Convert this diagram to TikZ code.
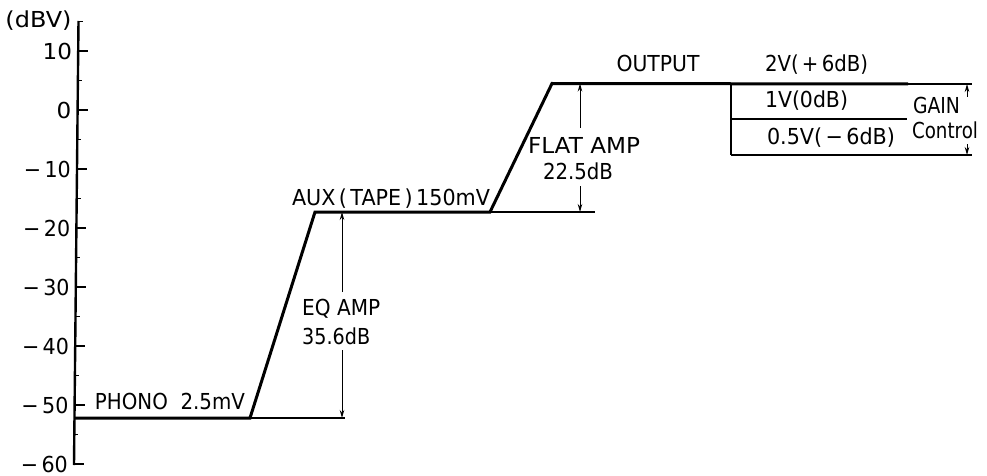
\documentclass[tikz,border=0pt]{standalone}
\usepackage{fontspec}
\setmainfont{DejaVu Sans}
\usepackage{graphicx}
\usetikzlibrary{arrows.meta}
\newcommand{\wt}[2]{\resizebox{#1}{\height}{#2}}
\begin{document}
\begin{tikzpicture}[x=1pt,y=-1pt,
  lbl/.style={inner sep=0pt, font=\fontsize{22}{26}\selectfont},
  lvl/.style={line width=3pt, line join=miter},
  boxl/.style={line width=2.6pt},
  thinl/.style={line width=1.2pt},
  dim/.style={line width=1pt, -{Stealth[length=8pt,width=4.5pt]}},
  axisl/.style={line width=2.4pt},
  tickl/.style={line width=1.4pt}]
\useasboundingbox (0,0) rectangle (987,476);

% axis
\coordinate (atop) at (78.5,21);
\coordinate (abot) at (74,465);
\draw[axisl] (atop) -- (abot);
\foreach \d in {-60,-50,...,10}{
  \pgfmathsetmacro\yy{110-5.9*\d}
  \pgfmathsetmacro\xx{78.5-4.5*(\yy-22)/442}
  \pgfmathtruncatemacro\ab{abs(\d)}
  \draw[tickl] (\xx,\yy) -- ++(10,0);
  \node[lbl, anchor=east] (tick\d) at (\xx-6,\yy)
    {\ifnum\d<0 \wt{47pt}{−\,\ab}\else\scalebox{1.05}[1]{\ab}\fi};
}
\foreach \d in {-55,-45,...,15}{
  \pgfmathsetmacro\yy{110-5.9*\d}
  \pgfmathsetmacro\xx{78.5-4.5*(\yy-22)/442}
  \draw[tickl] (\xx,\yy) -- ++(4,0);
}
\node[lbl] (dbv) at (38.5,21) {\wt{66pt}{(dBV)}};

% levels
\coordinate (ph0) at (74.5,418);
\coordinate (ph1) at (250,418);
\coordinate (ph2) at (345,418);
\coordinate (ax1) at (315,212);
\coordinate (ax2) at (490,212);
\coordinate (ax3) at (595,212);
\coordinate (out1) at (552,83.5);
\coordinate (out2) at (908,84);
\coordinate (out3) at (972,84);
\coordinate (bxt) at (731,84);
\coordinate (bxb) at (731,155);
\coordinate (mid1) at (731,119);
\coordinate (mid2) at (907,119);
\coordinate (bot2) at (907,155);
\coordinate (bot3) at (972,155);

\draw[lvl] (ph0) -- (ph1) -- (ax1) -- (ax2) -- (out1) -- (out2);
\draw[thinl] (ph1) -- (ph2);
\draw[thinl] (ax2) -- (ax3);
\draw[thinl] (out2) -- (out3);
\draw[boxl] (bxt) -- (bxb);
\draw[boxl] (mid1) -- (mid2);
\draw[boxl] (bxb) -- (bot2);
\draw[thinl] (bot2) -- (bot3);

% labels
\node[lbl] (phono) at (170,401) {\wt{150pt}{PHONO\hspace{14pt}2.5mV}};
\node[lbl] (aux) at (391,199) {\wt{198pt}{AUX\,(\,TAPE\,)\,150mV}};
\node[lbl, anchor=west] (eq1) at (302,309) {\wt{78pt}{EQ AMP}};
\node[lbl, anchor=west] (eq2) at (302,336) {\wt{68pt}{35.6dB}};
\node[lbl] (fl1) at (584,145) {\wt{112pt}{FLAT AMP}};
\node[lbl] (fl2) at (578,171) {\wt{70pt}{22.5dB}};
\node[lbl] (outp) at (658,63) {\wt{83pt}{OUTPUT}};
\node[lbl] (v2) at (816.5,65) {\wt{103pt}{2V(\,+\,6dB)}};
\node[lbl] (v1) at (806.5,101) {\wt{83pt}{1V(0dB)}};
\node[lbl] (v05) at (831,138) {\wt{128pt}{0.5V(\,−\,6dB)}};
\node[lbl] (gain) at (936.5,105) {\wt{47pt}{GAIN}};
\node[lbl] (ctrl) at (945,130) {\wt{66pt}{Control}};

% dimension arrows
\coordinate (eqt) at (342,292);
\coordinate (eqb) at (342,350);
\draw[dim] (eqt) -- (eqt |- ax1);
\draw[dim] (eqb) -- (eqb |- ph1);
\coordinate (flt) at (580,128);
\coordinate (flb) at (580,186);
\draw[dim] (flt) -- (flt |- out1);
\draw[dim] (flb) -- (flb |- ax2);
\coordinate (gt) at (967,97);
\coordinate (gb) at (967,144);
\draw[dim] (gt) -- (gt |- out3);
\draw[dim] (gb) -- (gb |- bot3);
\end{tikzpicture}
\end{document}
